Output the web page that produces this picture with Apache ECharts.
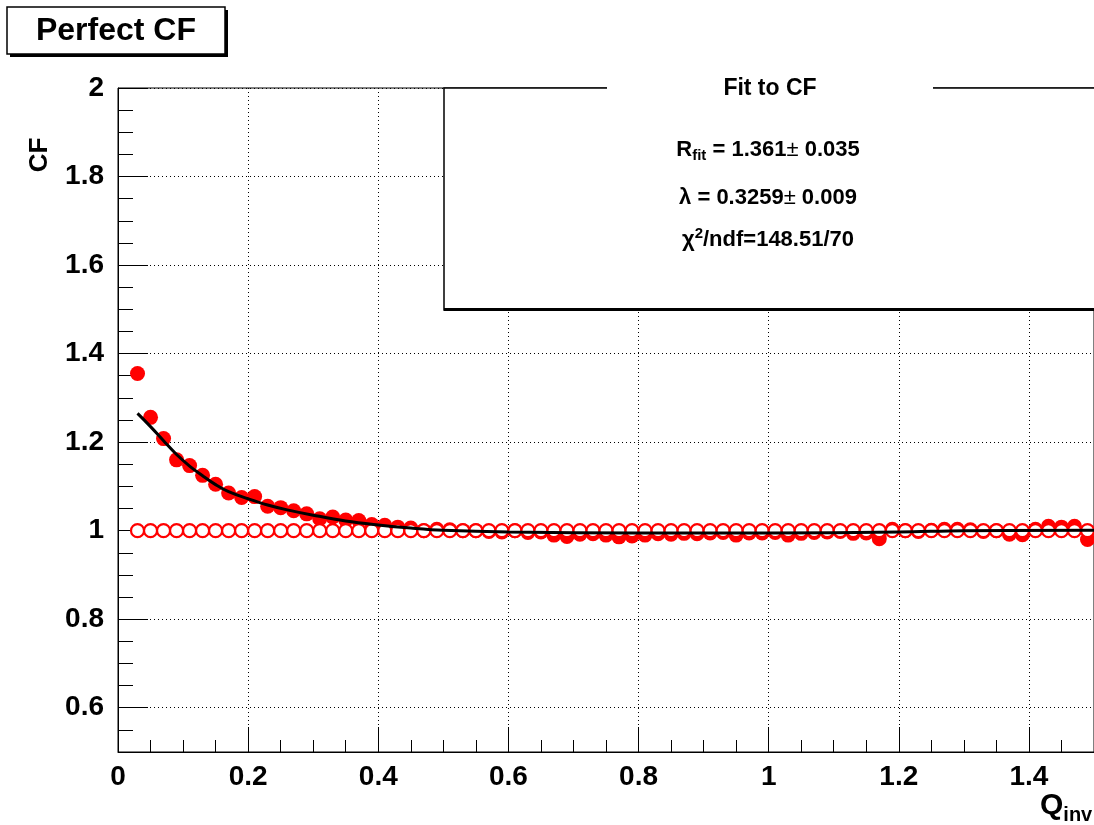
<!DOCTYPE html>
<html>
<head>
<meta charset="utf-8">
<script src="https://cdn.jsdelivr.net/npm/echarts@6/dist/echarts.min.js"></script>
<style>
html,body{margin:0;padding:0;background:#fff;}
#chart{width:1094px;height:825px;}
</style>
</head>
<body>
<div id="chart"></div>
<script>
// ---- data ----
const qValues = [0.03,0.05,0.07,0.09,0.11,0.13,0.15,0.17,0.19,0.21,0.23,0.25,0.27,0.29,0.31,0.33,0.35,0.37,0.39,0.41,
  0.43,0.45,0.47,0.49,0.51,0.53,0.55,0.57,0.59,0.61,0.63,0.65,0.67,0.69,0.71,0.73,0.75,0.77,0.79,0.81,
  0.83,0.85,0.87,0.89,0.91,0.93,0.95,0.97,0.99,1.01,1.03,1.05,1.07,1.09,1.11,1.13,1.15,1.17,1.19,1.21,
  1.23,1.25,1.27,1.29,1.31,1.33,1.35,1.37,1.39,1.41,1.43,1.45,1.47,1.49];
const cfValues = [1.355,1.256,1.208,1.160,1.147,1.125,1.105,1.085,1.075,1.077,1.055,1.052,1.045,1.038,1.027,1.031,1.024,1.023,1.014,1.012,
  1.008,1.006,1.000,1.003,1.002,1.000,1.000,0.998,0.997,1.000,0.996,0.997,0.990,0.987,0.992,0.993,0.990,0.986,0.988,0.990,
  0.993,0.992,0.994,0.993,0.995,0.996,0.990,0.995,0.995,0.996,0.990,0.994,0.996,0.997,0.998,0.994,0.995,0.982,1.003,1.000,
  0.998,1.001,1.003,1.003,1.002,0.998,1.000,0.992,0.991,1.003,1.010,1.008,1.010,0.980];
const refValues = [1,1,1,1,1,1,1,1,1,1,1,1,1,1,1,1,1,1,1,1,
  1,1,1,1,1,1,1,1,1,1,1,1,1,1,1,1,1,1,1,1,
  1,1,1,1,1,1,1,1,1,1,1,1,1,1,1,1,1,1,1,1,
  1,1,1,1,1,1,1,1,1,1,1,1,1,1];
const fitQ = [0.03,0.05,0.07,0.09,0.11,0.13,0.15,0.17,0.20,0.23,0.26,0.30,0.35,0.40,0.45,0.50,0.60,0.80,1.00,1.20,1.30,1.50];
const fitValues = [1.265,1.235,1.203,1.172,1.146,1.124,1.104,1.088,1.072,1.058,1.047,1.035,1.022,1.013,1.006,1.001,0.997,0.995,0.995,0.997,1.000,1.001];
const xTicks = [0,0.2,0.4,0.6,0.8,1.0,1.2,1.4];
const yTicks = [0.6,0.8,1.0,1.2,1.4,1.6,1.8,2.0];

const FONT = 'Liberation Sans';
const chart = echarts.init(document.getElementById('chart'), null, {renderer:'canvas'});

const lineStyle = {color:'#000', width:1};
const option = {
  animation:false,
  backgroundColor:'#fff',
  grid:{left:118, right:-2, top:88, bottom:73, show:true, borderColor:'#000', borderWidth:1, backgroundColor:'transparent'},
  xAxis:[
    {type:'value', min:0, max:1.5, position:'bottom',
     axisLine:{show:true, onZero:false, lineStyle},
     axisTick:{show:true, inside:true, length:25, customValues:xTicks, lineStyle},
     axisLabel:{show:true, customValues:xTicks, margin:11, color:'#000', fontFamily:FONT, fontWeight:'bold', fontSize:28,
       formatter:(v)=>String(+v.toFixed(1))},
     splitLine:{show:true, customValues:xTicks, lineStyle:{color:'#000', type:[1,3], width:1}}},
    {type:'value', min:0, max:1.5, interval:0.05, position:'bottom',
     axisLine:{show:false, onZero:false}, axisTick:{show:true, inside:true, length:12, lineStyle},
     axisLabel:{show:false}, splitLine:{show:false}}
  ],
  yAxis:[
    {type:'value', min:0.5, max:2, position:'left',
     axisLine:{show:true, onZero:false, lineStyle},
     axisTick:{show:true, inside:true, length:30, customValues:yTicks, lineStyle},
     axisLabel:{show:true, customValues:yTicks, margin:14, color:'#000', fontFamily:FONT, fontWeight:'bold', fontSize:28,
       formatter:(v)=>String(+v.toFixed(1))},
     splitLine:{show:true, customValues:yTicks, lineStyle:{color:'#000', type:[1,3], width:1}}},
    {type:'value', min:0.5, max:2, interval:0.05, position:'left',
     axisLine:{show:false, onZero:false}, axisTick:{show:true, inside:true, length:15, lineStyle},
     axisLabel:{show:false}, splitLine:{show:false}}
  ],
  series:[
    {type:'scatter', name:'CF', xAxisIndex:0, yAxisIndex:0, symbol:'circle', symbolSize:15,
     itemStyle:{color:'#ff0000', opacity:1}, z:2,
     data:qValues.map((q,i)=>[q,cfValues[i]])},
    {type:'scatter', name:'ref', xAxisIndex:0, yAxisIndex:0, symbol:'circle', symbolSize:13,
     itemStyle:{color:'#ffffff', borderColor:'#ff0000', borderWidth:2.2, opacity:1}, z:3,
     data:qValues.map((q,i)=>[q,refValues[i]])},
    {type:'line', name:'fit', xAxisIndex:0, yAxisIndex:0, smooth:0.4, showSymbol:false, symbol:'none',
     lineStyle:{color:'#000', width:3}, z:4,
     data:fitQ.map((q,i)=>[q,fitValues[i]])}
  ],
  graphic:[
    // title box
    {type:'rect', z:100, shape:{x:10, y:10, width:218, height:47}, style:{fill:'#000'}},
    {type:'rect', z:101, shape:{x:7, y:7, width:218, height:47}, style:{fill:'#fff', stroke:'#000', lineWidth:1.5}},
    {type:'text', z:102, x:116, y:31, style:{text:'Perfect CF', fill:'#000', font:'bold 32px "Liberation Sans"', align:'center', verticalAlign:'middle'}},
    // stats box
    {type:'rect', z:100, shape:{x:444, y:88, width:700, height:222}, style:{fill:'#fff', stroke:'#000', lineWidth:1.5}},
    {type:'rect', z:101, shape:{x:444, y:308, width:700, height:3}, style:{fill:'#000'}},
    {type:'rect', z:101, shape:{x:607, y:84, width:326, height:8}, style:{fill:'#fff'}},
    {type:'text', z:102, x:770, y:89, style:{text:'Fit to CF', fill:'#000', font:'bold 23px "Liberation Sans"', align:'center', verticalAlign:'middle'}},
    {type:'text', z:102, x:768, y:150, style:{
      text:'{b|R}{s|fit}{b| = 1.361}{n|±}{b| 0.035}', align:'center', verticalAlign:'middle',
      rich:{b:{fontFamily:FONT, fontWeight:'bold', fontSize:22, color:'#000'},
            n:{fontFamily:FONT, fontSize:22, color:'#000'},
            s:{fontFamily:FONT, fontWeight:'bold', fontSize:15, color:'#000', padding:[12,0,0,0]}}}},
    {type:'text', z:102, x:768, y:198, style:{
      text:'{b|λ = 0.3259}{n|±}{b| 0.009}', align:'center', verticalAlign:'middle',
      rich:{b:{fontFamily:FONT, fontWeight:'bold', fontSize:22, color:'#000'},
            n:{fontFamily:FONT, fontSize:22, color:'#000'}}}},
    {type:'text', z:102, x:768, y:240, style:{
      text:'{b|χ}{p|2}{b|/ndf=148.51/70}', align:'center', verticalAlign:'middle',
      rich:{b:{fontFamily:FONT, fontWeight:'bold', fontSize:22, color:'#000'},
            p:{fontFamily:FONT, fontWeight:'bold', fontSize:15, color:'#000', padding:[0,0,12,0]}}}},
    // axis titles
    {type:'text', z:102, x:40, y:155, rotation:Math.PI/2, style:{text:'CF', fill:'#000', font:'bold 26px "Liberation Sans"', align:'center', verticalAlign:'middle'}},
    {type:'text', z:102, x:1040, y:806, style:{
      text:'{b|Q}{s|inv}', align:'left', verticalAlign:'middle',
      rich:{b:{fontFamily:FONT, fontWeight:'bold', fontSize:30, color:'#000'},
            s:{fontFamily:FONT, fontWeight:'bold', fontSize:20, color:'#000', padding:[18,0,0,0]}}}}
  ]
};
chart.setOption(option);
</script>
</body>
</html>
